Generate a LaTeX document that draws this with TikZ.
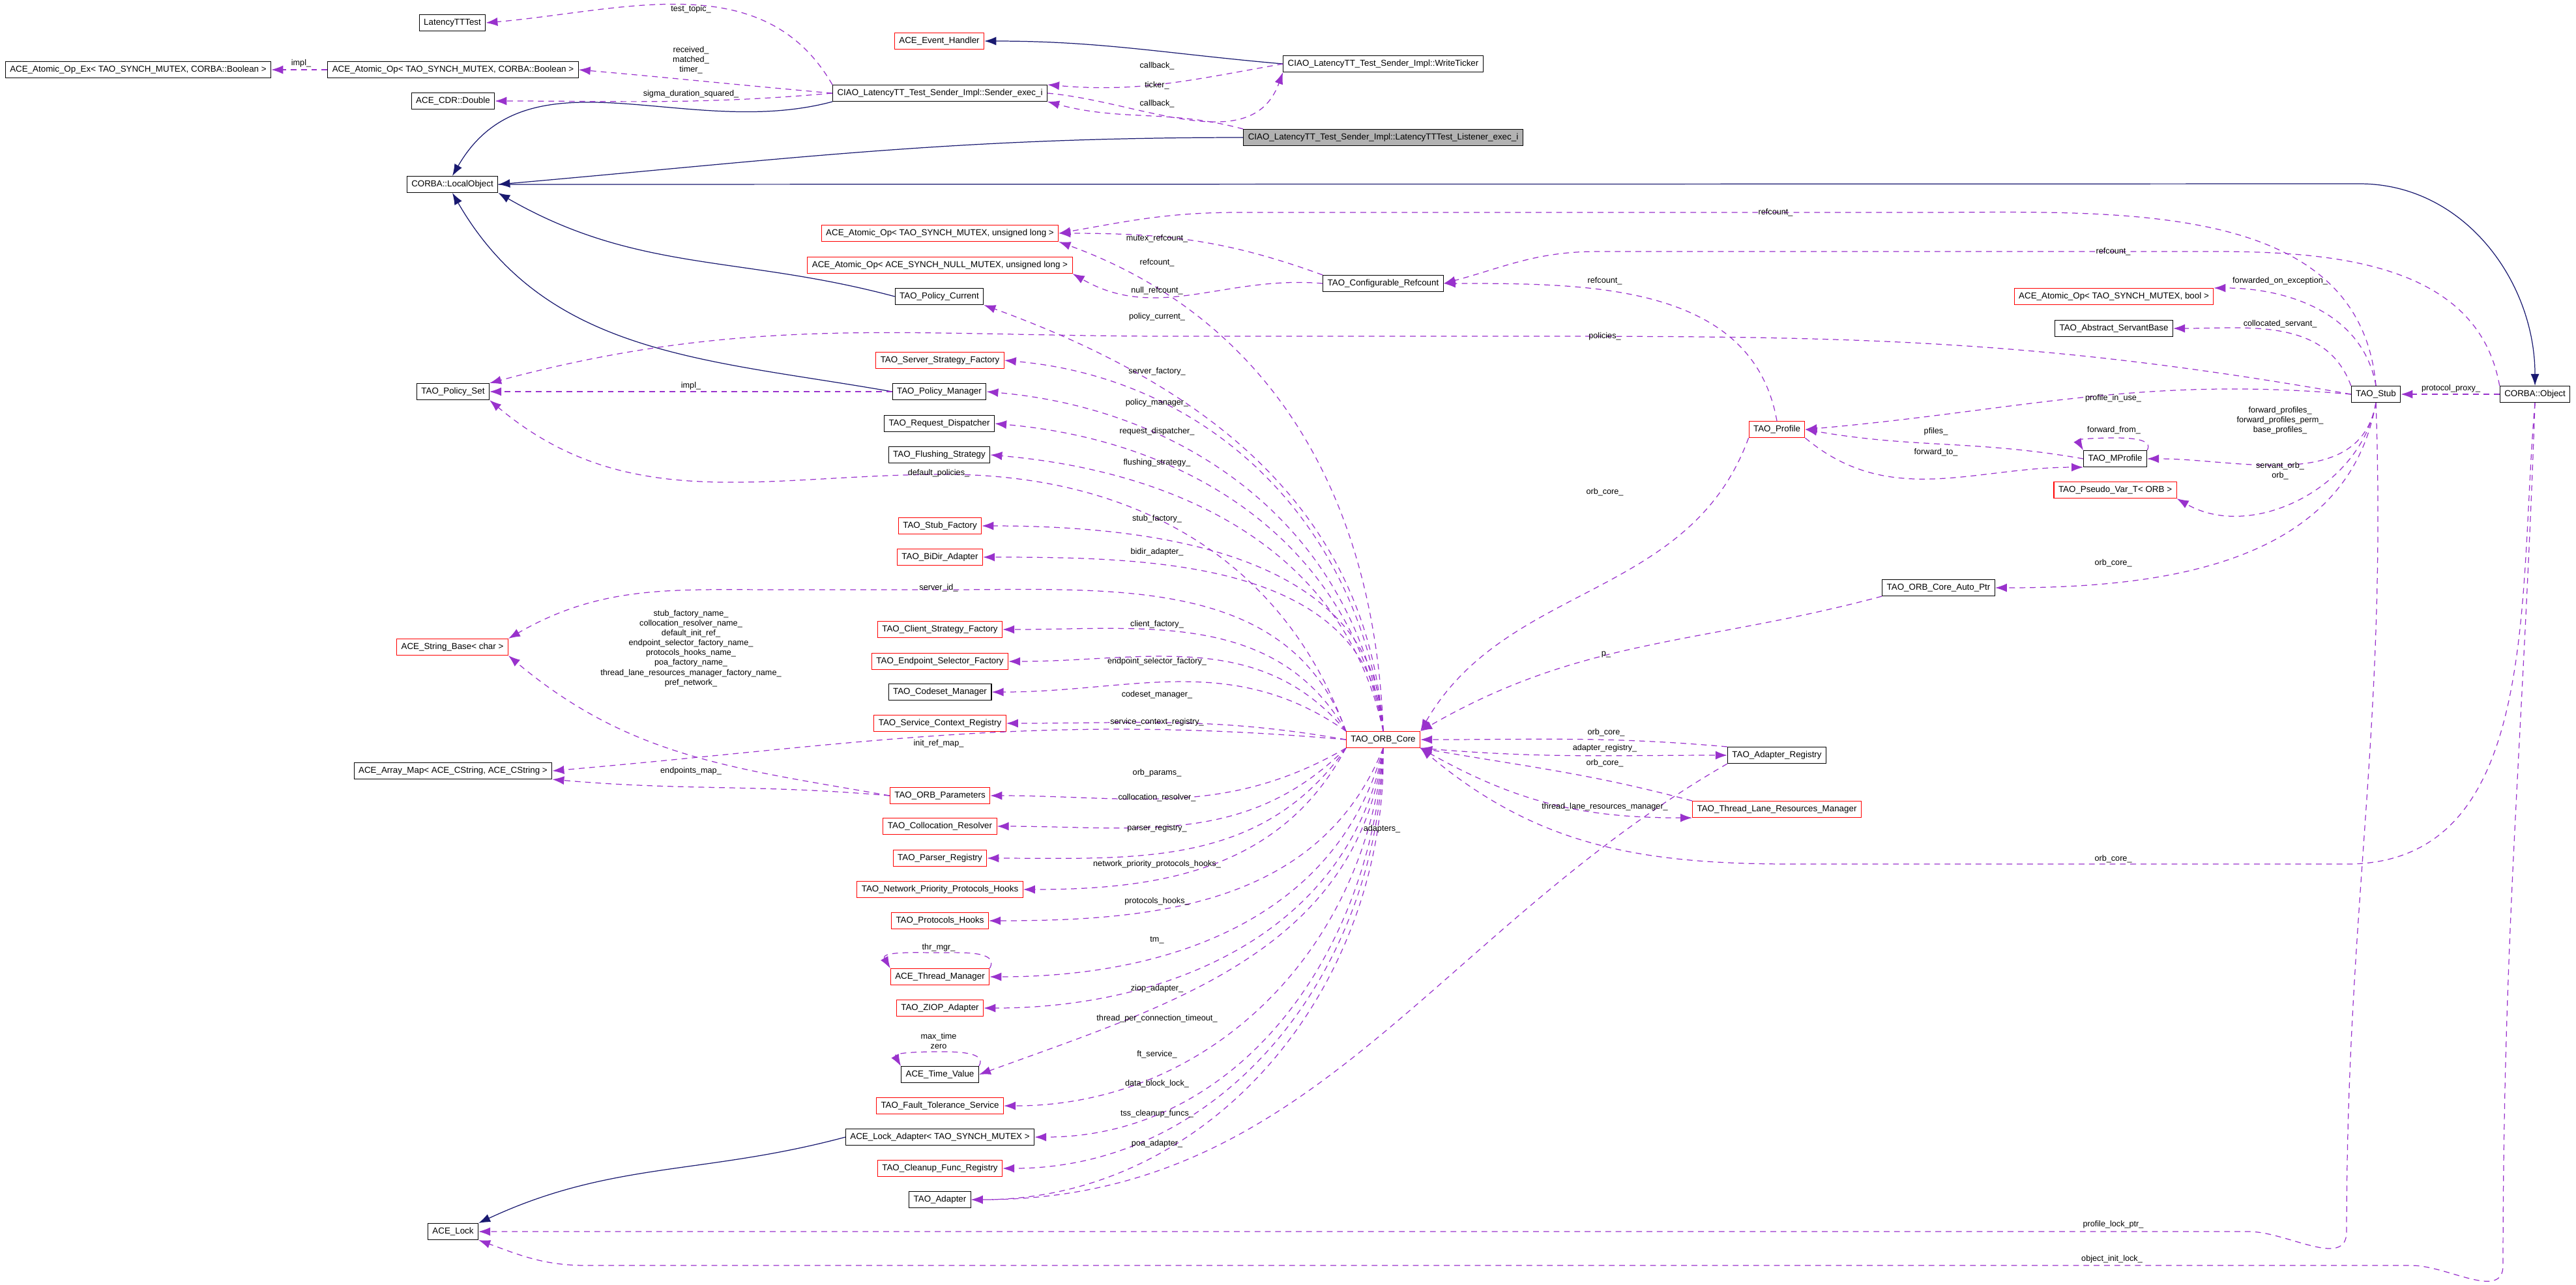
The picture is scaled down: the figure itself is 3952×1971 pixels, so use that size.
\documentclass[tikz,border=0pt]{standalone}
\usepackage{fontspec}
\setmainfont{Liberation Sans}
\usetikzlibrary{arrows.meta}
\definecolor{inhblue}{RGB}{25,25,112}
\definecolor{memviolet}{RGB}{153,50,204}
\tikzset{
	cls/.style={draw, rectangle, line width=0.3pt, inner xsep=2pt, inner ysep=0pt, minimum height=0.25cm, font=\fontsize{3.8}{4.5}\selectfont, fill=white},
	badcls/.style={cls, draw=red},
	focus/.style={cls, fill=black!30},
	lbl/.style={font=\fontsize{3.6}{4.3}\selectfont, inner sep=0pt, align=center},
	inh/.style={draw=inhblue, line width=0.35pt, -{Latex[length=1.8mm,width=1.3mm]}},
	mem/.style={draw=memviolet, line width=0.35pt, dashed, dash pattern=on 2.5pt off 2pt, -{Latex[length=1.8mm,width=1.3mm]}},
}
\begin{document}
\begin{tikzpicture}[x=0.01cm, y=-0.01cm]
	\useasboundingbox (0,0) rectangle (3952,1971);
	
	% top part
	\node (ltt) [cls] at (694,35) {LatencyTTTest};
	\node (evh) [badcls] at (1441,63) {ACE\_Event\_Handler};
	\node (aopex) [cls] at (212,107) {ACE\_Atomic\_Op\_Ex\textless{} TAO\_SYNCH\_MUTEX, CORBA::Boolean \textgreater};
	\node (aopb) [cls] at (695,107) {ACE\_Atomic\_Op\textless{} TAO\_SYNCH\_MUTEX, CORBA::Boolean \textgreater};
	\node (dbl) [cls] at (695,155) {ACE\_CDR::Double};
	\node (sender) [cls] at (1442,143) {CIAO\_LatencyTT\_Test\_Sender\_Impl::Sender\_exec\_i};
	\node (ticker) [cls] at (2122,98) {CIAO\_LatencyTT\_Test\_Sender\_Impl::WriteTicker};
	\node (listener) [focus] at (2122,211) {CIAO\_LatencyTT\_Test\_Sender\_Impl::LatencyTTTest\_Listener\_exec\_i};
	\node (lobj) [cls] at (694,283) {CORBA::LocalObject};
	\node (cobj) [cls] at (3889,605) {CORBA::Object};
	
	% refcount row
	\node (aopul) [badcls] at (1442,358) {ACE\_Atomic\_Op\textless{} TAO\_SYNCH\_MUTEX, unsigned long \textgreater};
	\node (aopnl) [badcls] at (1442,407) {ACE\_Atomic\_Op\textless{} ACE\_SYNCH\_NULL\_MUTEX, unsigned long \textgreater};
	\node (cref) [cls] at (2122,435) {TAO\_Configurable\_Refcount};
	\node (aopbool) [badcls] at (3243,455) {ACE\_Atomic\_Op\textless{} TAO\_SYNCH\_MUTEX, bool \textgreater};
	\node (asb) [cls] at (3243,504) {TAO\_Abstract\_ServantBase};
	\node (stub) [cls] at (3645,605) {TAO\_Stub};
	\node (prof) [badcls] at (2726,659) {TAO\_Profile};
	\node (mprof) [cls] at (3245,704) {TAO\_MProfile};
	\node (pvar) [badcls] at (3245,752) {TAO\_Pseudo\_Var\_T\textless{} ORB \textgreater};
	\node (autop) [cls] at (2974,902) {TAO\_ORB\_Core\_Auto\_Ptr};
	
	% core and its members
	\node (core) [badcls] at (2122,1135) {TAO\_ORB\_Core};
	\node (areg) [cls] at (2726,1159) {TAO\_Adapter\_Registry};
	\node (tlrm) [badcls] at (2726,1242) {TAO\_Thread\_Lane\_Resources\_Manager};
	\node (pcur) [cls] at (1441,455) {TAO\_Policy\_Current};
	\node (ssf) [badcls] at (1442,553) {TAO\_Server\_Strategy\_Factory};
	\node (pset) [cls] at (695,601) {TAO\_Policy\_Set};
	\node (pman) [cls] at (1441,601) {TAO\_Policy\_Manager};
	\node (rdisp) [cls] at (1441,650) {TAO\_Request\_Dispatcher};
	\node (flush) [cls] at (1441,698) {TAO\_Flushing\_Strategy};
	\node (stubf) [badcls] at (1442,807) {TAO\_Stub\_Factory};
	\node (bidir) [badcls] at (1442,855) {TAO\_BiDir\_Adapter};
	\node (csf) [badcls] at (1442,966) {TAO\_Client\_Strategy\_Factory};
	\node (str) [badcls] at (694,993) {ACE\_String\_Base\textless{} char \textgreater};
	\node (esf) [badcls] at (1442,1015) {TAO\_Endpoint\_Selector\_Factory};
	\node (csm) [cls] at (1442,1062) {TAO\_Codeset\_Manager};
	\node (scr) [badcls] at (1442,1110) {TAO\_Service\_Context\_Registry};
	\node (amap) [cls] at (695,1183) {ACE\_Array\_Map\textless{} ACE\_CString, ACE\_CString \textgreater};
	\node (opar) [badcls] at (1442,1221) {TAO\_ORB\_Parameters};
	\node (cres) [badcls] at (1442,1268) {TAO\_Collocation\_Resolver};
	\node (preg) [badcls] at (1442,1317) {TAO\_Parser\_Registry};
	\node (npph) [badcls] at (1442,1365) {TAO\_Network\_Priority\_Protocols\_Hooks};
	\node (phk) [badcls] at (1442,1413) {TAO\_Protocols\_Hooks};
	\node (thm) [badcls] at (1442,1499) {ACE\_Thread\_Manager};
	\node (ziop) [badcls] at (1442,1547) {TAO\_ZIOP\_Adapter};
	\node (tval) [cls] at (1442,1649) {ACE\_Time\_Value};
	\node (fts) [badcls] at (1442,1697) {TAO\_Fault\_Tolerance\_Service};
	\node (ladp) [cls] at (1442,1745) {ACE\_Lock\_Adapter\textless{} TAO\_SYNCH\_MUTEX \textgreater};
	\node (cfr) [badcls] at (1442,1793) {TAO\_Cleanup\_Func\_Registry};
	\node (adp) [cls] at (1442,1841) {TAO\_Adapter};
	\node (lock) [cls] at (695,1890) {ACE\_Lock};
	
	\coordinate (loturn) at (3620,282);
	\coordinate (stubdown) at (3600,1890);
	\coordinate (objdown) at (3840,1942);
	\coordinate (objleft) at (3600,1326);
	
	% inheritance
	\begin{scope}[inh]
		\draw (ticker.west) to[out=175,in=0] (evh.east);
		\draw (sender.south west) to[out=195,in=60] (lobj.north);
		\draw (listener.west) to[out=180,in=5] (lobj.east);
		\draw (pcur.west) to[out=165,in=-30] (lobj.south east);
		\draw (pman.west) to[out=170,in=-60] (lobj.south);
		\draw (ladp.west) to[out=195,in=25] (lock.north east);
		\draw (lobj.east) -- (loturn) to[out=0,in=90] (cobj.north);
	\end{scope}
	
	% members
	\begin{scope}[mem]
		\draw (sender.north west) to[out=120,in=5] (ltt.east);
		\draw (sender.west) to[out=175,in=-5] (aopb.east);
		\draw (aopb.west) -- (aopex.east);
		\draw (sender.west) to[out=185,in=0] (dbl.east);
		\draw (ticker.west) to[out=190,in=-5] (sender.north east);
		\draw (sender.east) to[out=-5,in=-110] (ticker.south west);
		\draw (listener.north west) to[out=165,in=-15] (sender.south east);
		\draw (stub.north) to[out=95,in=0] (2950,326) -- (1900,326) to[out=180,in=10] (aopul.east);
		\draw (cref.north west) to[out=160,in=0] (aopul.east);
		\draw (core.north) to[out=92,in=-20] (aopul.south east);
		\draw (cref.west) to[out=175,in=-30] (aopnl.south east);
		\draw (cobj.north west) to[out=100,in=0] (3400,386) -- (2450,386) to[out=180,in=15] (cref.east);
		\draw (prof.north) to[out=100,in=0] (cref.east);
		\draw (stub.north) to[out=100,in=0] (aopbool.north east);
		\draw (stub.north west) to[out=110,in=0] (asb.east);
		\draw (core.north) to[out=94,in=-20] (pcur.south east);
		\draw (stub.west) to[out=170,in=0] (2300,516) -- (1800,516) to[out=180,in=15] (pset.north east);
		\draw (core.north) to[out=96,in=-5] (ssf.east);
		\draw (pman.west) -- (pset.east);
		\draw (core.north) to[out=98,in=-5] (pman.east);
		\draw (core.north) to[out=100,in=-5] (rdisp.east);
		\draw (core.north) to[out=102,in=-5] (flush.east);
		\draw (core.north west) to[out=110,in=0] (1450,728) to[out=180,in=-40] (pset.south east);
		\draw (stub.west) to[out=175,in=5] (prof.east);
		\draw (cobj.west) -- (stub.east);
		\draw (mprof.west) to[out=170,in=-10] (prof.east);
		\draw (prof.south east) to[out=-40,in=180] (mprof.south west);
		\draw (mprof.north east) to[out=60,in=0] (3245,672) to[out=180,in=120] (mprof.north west);
		\draw (stub.south) to[out=-100,in=0] (mprof.east);
		\draw (stub.south) to[out=-100,in=-30] (pvar.south east);
		\draw (prof.south west) to[out=-110,in=60] (core.north east);
		\draw (stub.south) to[out=-100,in=0] (autop.east);
		\draw (autop.south west) to[out=195,in=30] (core.north east);
		\draw (core.north west) to[out=110,in=0] (1450,905) -- (1200,905) to[out=180,in=30] (str.north east);
		\draw (opar.west) to[out=170,in=-40] (str.south east);
		\draw (core.west) to[out=175,in=5] (amap.east);
		\draw (opar.west) to[out=175,in=-5] (amap.south east);
		\draw (areg.north west) to[out=175,in=0] (core.east);
		\draw (core.south east) to[out=-5,in=180] (areg.west);
		\draw (tlrm.north west) to[out=165,in=-10] (core.south east);
		\draw (core.south east) to[out=-30,in=180] (tlrm.south west);
		\draw (cobj.south) to[out=-95,in=0] (objleft) -- (2750,1326) to[out=180,in=-40] (core.south east);
		\draw (areg.south west) to[out=-150,in=0] (adp.east);
		\draw (thm.north east) to[out=60,in=0] (1440,1462) to[out=180,in=120] (thm.north west);
		\draw (tval.north east) to[out=60,in=0] (1440,1614) to[out=180,in=120] (tval.north west);
		\draw (stub.south) to[out=-88,in=90] (stubdown) to[out=-90,in=0] (3450,1890) -- (lock.east);
		\draw (cobj.south) to[out=-92,in=90] (objdown) to[out=-90,in=0] (3700,1942) -- (900,1942) to[out=180,in=-20] (lock.south east);
		\draw (core.north) to[out=92,in=0] (stubf.east);
		\draw (core.north) to[out=95,in=0] (bidir.east);
		\draw (core.north west) to[out=120,in=0] (csf.east);
		\draw (core.north west) to[out=130,in=0] (esf.east);
		\draw (core.north west) to[out=145,in=0] (csm.east);
		\draw (core.west) to[out=170,in=0] (scr.east);
		\draw (core.south west) to[out=-150,in=0] (opar.east);
		\draw (core.south west) to[out=-135,in=0] (cres.east);
		\draw (core.south west) to[out=-125,in=0] (preg.east);
		\draw (core.south west) to[out=-118,in=0] (npph.east);
		\draw (core.south) to[out=-112,in=0] (phk.east);
		\draw (core.south) to[out=-105,in=0] (thm.east);
		\draw (core.south) to[out=-100,in=0] (ziop.east);
		\draw (core.south) to[out=-97,in=20] (tval.east);
		\draw (core.south) to[out=-95,in=0] (fts.east);
		\draw (core.south) to[out=-93,in=0] (ladp.east);
		\draw (core.south) to[out=-91,in=0] (cfr.east);
		\draw (core.south) to[out=-89,in=0] (adp.east);
	\end{scope}
	
	% labels
	\node (l1) [lbl] at (1060,14) {test\_topic\_};
	\node (l2) [lbl] at (1060,92) {received\_\\matched\_\\timer\_};
	\node (l3) [lbl] at (462,97) {impl\_};
	\node (l4) [lbl] at (1060,144) {sigma\_duration\_squared\_};
	\node (l5) [lbl] at (1775,101) {callback\_};
	\node (l6) [lbl] at (1775,131) {ticker\_};
	\node (l7) [lbl] at (1775,159) {callback\_};
	\node (l8) [lbl] at (2724,326) {refcount\_};
	\node (l9) [lbl] at (1775,366) {mutex\_refcount\_};
	\node (l10) [lbl] at (3242,386) {refcount\_};
	\node (l11) [lbl] at (1775,403) {refcount\_};
	\node (l12) [lbl] at (2462,431) {refcount\_};
	\node (l13) [lbl] at (3498,431) {forwarded\_on\_exception\_};
	\node (l14) [lbl] at (1775,446) {null\_refcount\_};
	\node (l15) [lbl] at (1775,486) {policy\_current\_};
	\node (l16) [lbl] at (3498,497) {collocated\_servant\_};
	\node (l17) [lbl] at (2462,516) {policies\_};
	\node (l18) [lbl] at (1775,570) {server\_factory\_};
	\node (l19) [lbl] at (1060,592) {impl\_};
	\node (l20) [lbl] at (3760,596) {protocol\_proxy\_};
	\node (l21) [lbl] at (3242,611) {profile\_in\_use\_};
	\node (l22) [lbl] at (1775,618) {policy\_manager\_};
	\node (l23) [lbl] at (3498,645) {forward\_profiles\_\\forward\_profiles\_perm\_\\base\_profiles\_};
	\node (l24) [lbl] at (3243,660) {forward\_from\_};
	\node (l25) [lbl] at (1775,662) {request\_dispatcher\_};
	\node (l26) [lbl] at (2970,662) {pfiles\_};
	\node (l27) [lbl] at (2970,694) {forward\_to\_};
	\node (l28) [lbl] at (1775,710) {flushing\_strategy\_};
	\node (l29) [lbl] at (3498,723) {servant\_orb\_\\orb\_};
	\node (l30) [lbl] at (1440,726) {default\_policies\_};
	\node (l31) [lbl] at (2462,755) {orb\_core\_};
	\node (l32) [lbl] at (1775,796) {stub\_factory\_};
	\node (l33) [lbl] at (1775,847) {bidir\_adapter\_};
	\node (l34) [lbl] at (3242,864) {orb\_core\_};
	\node (l35) [lbl] at (1440,902) {server\_id\_};
	\node (l36) [lbl] at (1775,958) {client\_factory\_};
	\node (l37) [lbl] at (1060,995) {stub\_factory\_name\_\\collocation\_resolver\_name\_\\default\_init\_ref\_\\endpoint\_selector\_factory\_name\_\\protocols\_hooks\_name\_\\poa\_factory\_name\_\\thread\_lane\_resources\_manager\_factory\_name\_\\pref\_network\_};
	\node (l38) [lbl] at (2464,1004) {p\_};
	\node (l39) [lbl] at (1775,1015) {endpoint\_selector\_factory\_};
	\node (l40) [lbl] at (1775,1066) {codeset\_manager\_};
	\node (l41) [lbl] at (1775,1108) {service\_context\_registry\_};
	\node (l42) [lbl] at (2464,1124) {orb\_core\_};
	\node (l43) [lbl] at (1440,1141) {init\_ref\_map\_};
	\node (l44) [lbl] at (2462,1148) {adapter\_registry\_};
	\node (l45) [lbl] at (2462,1171) {orb\_core\_};
	\node (l46) [lbl] at (1060,1183) {endpoints\_map\_};
	\node (l47) [lbl] at (1775,1186) {orb\_params\_};
	\node (l48) [lbl] at (1775,1224) {collocation\_resolver\_};
	\node (l49) [lbl] at (2462,1238) {thread\_lane\_resources\_manager\_};
	\node (l50) [lbl] at (1775,1271) {parser\_registry\_};
	\node (l51) [lbl] at (2120,1272) {adapters\_};
	\node (l52) [lbl] at (3242,1318) {orb\_core\_};
	\node (l53) [lbl] at (1775,1326) {network\_priority\_protocols\_hooks\_};
	\node (l54) [lbl] at (1775,1383) {protocols\_hooks\_};
	\node (l55) [lbl] at (1775,1443) {tm\_};
	\node (l56) [lbl] at (1440,1454) {thr\_mgr\_};
	\node (l57) [lbl] at (1775,1517) {ziop\_adapter\_};
	\node (l58) [lbl] at (1775,1563) {thread\_per\_connection\_timeout\_};
	\node (l59) [lbl] at (1440,1597) {max\_time\\zero};
	\node (l60) [lbl] at (1775,1618) {ft\_service\_};
	\node (l61) [lbl] at (1775,1663) {data\_block\_lock\_};
	\node (l62) [lbl] at (1775,1709) {tss\_cleanup\_funcs\_};
	\node (l63) [lbl] at (1775,1755) {poa\_adapter\_};
	\node (l64) [lbl] at (3242,1879) {profile\_lock\_ptr\_};
	\node (l65) [lbl] at (3240,1932) {object\_init\_lock\_};
	
\end{tikzpicture}
\end{document}
